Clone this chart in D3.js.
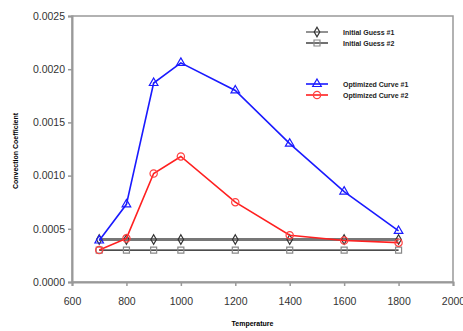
<!DOCTYPE html>
<html>
<head>
<meta charset="utf-8">
<script src="https://cdn.jsdelivr.net/npm/d3@7"></script>
<style>
  body { margin: 0; background: #fff; }
  svg { font-family: "Liberation Sans", Arial, sans-serif; }
</style>
</head>
<body>
<svg width="463" height="331"></svg>
<script>
const temps = [700, 800, 900, 1000, 1200, 1400, 1600, 1800];
const guess1 = [0.0004, 0.0004, 0.0004, 0.0004, 0.0004, 0.0004, 0.0004, 0.0004];
const guess2 = [0.0003, 0.0003, 0.0003, 0.0003, 0.0003, 0.0003, 0.0003, 0.0003];
const opt1 = [0.00039, 0.00073, 0.00187, 0.00206, 0.0018, 0.0013, 0.00085, 0.00048];
const opt2 = [0.0003, 0.00041, 0.00102, 0.00118, 0.00075, 0.00044, 0.00039, 0.00037];
const xTicks = [600, 800, 1000, 1200, 1400, 1600, 1800, 2000];
const yTicks = [0, 0.0005, 0.001, 0.0015, 0.002, 0.0025];
const seriesNames = ['Initial Guess #1', 'Initial Guess #2', 'Optimized Curve #1', 'Optimized Curve #2'];

const svg = d3.select('svg');
const margin = {top: 16, right: 10, bottom: 49, left: 72};
const width = 463, height = 331;
const innerW = width - margin.left - margin.right;
const innerH = height - margin.top - margin.bottom;

const x = d3.scaleLinear().domain([600, 2000]).range([0, innerW]);
const y = d3.scaleLinear().domain([0, 0.0025]).range([innerH, 0]);

const g = svg.append('g').attr('transform', `translate(${margin.left},${margin.top})`);

// frame
g.append('rect')
  .attr('width', innerW).attr('height', innerH)
  .attr('fill', 'none').attr('stroke', '#999').attr('stroke-width', 1.5);

const xAxis = g.append('g').attr('transform', `translate(0,${innerH})`)
  .call(d3.axisBottom(x).tickValues(xTicks).tickFormat(d3.format('d')).tickSize(4).tickPadding(12));
const yAxis = g.append('g')
  .call(d3.axisLeft(y).tickValues(yTicks).tickFormat(d3.format('.4f')).tickSize(4).tickPadding(3));
[xAxis, yAxis].forEach(a => {
  a.select('.domain').attr('stroke', '#999').attr('stroke-width', 2);
  a.selectAll('.tick line').attr('stroke', '#999').attr('stroke-width', 1.5);
  a.selectAll('.tick text').attr('font-size', 10.5).attr('fill', '#333');
});

svg.append('text')
  .attr('x', margin.left + innerW / 2 - 10).attr('y', 326)
  .attr('text-anchor', 'middle').attr('font-size', 7).attr('font-weight', 'bold')
  .text('Temperature');
svg.append('text')
  .attr('transform', `translate(18,151) rotate(-90)`)
  .attr('text-anchor', 'middle').attr('font-size', 7).attr('font-weight', 'bold')
  .text('Convection Coefficient');

const series = [
  {name: seriesNames[0], values: guess1, color: '#777', width: 3, shape: 'diamond', mcolor: '#333'},
  {name: seriesNames[1], values: guess2, color: '#111', width: 1.2, shape: 'square', mcolor: '#888'},
  {name: seriesNames[2], values: opt1, color: '#1a1aff', width: 1.6, shape: 'triangle', mcolor: '#1a1aff'},
  {name: seriesNames[3], values: opt2, color: '#ff2020', width: 1.6, shape: 'circle', mcolor: '#ff4040'}
];

const symbolFor = {
  diamond: d3.symbol().type(d3.symbolDiamond).size(26),
  square: d3.symbol().type(d3.symbolSquare).size(36),
  triangle: d3.symbol().type(d3.symbolTriangle).size(32),
  circle: d3.symbol().type(d3.symbolCircle).size(42)
};

const line = d3.line().x(d => x(d[0])).y(d => y(d[1]));

series.forEach(s => {
  const pts = temps.map((t, i) => [t, s.values[i]]);
  g.append('path').datum(pts)
    .attr('d', line).attr('fill', 'none')
    .attr('stroke', s.color).attr('stroke-width', s.width);
  g.selectAll(null).data(pts).enter().append('path')
    .attr('transform', d => `translate(${x(d[0])},${y(d[1])})`)
    .attr('d', symbolFor[s.shape])
    .attr('fill', 'none').attr('stroke', s.mcolor).attr('stroke-width', 1.2);
});

// legend
const legendRows = [32, 43, 84, 95];
const lg = svg.append('g');
series.forEach((s, i) => {
  const row = lg.append('g').attr('transform', `translate(306,${legendRows[i]})`);
  row.append('line').attr('x1', 0).attr('x2', 22)
    .attr('stroke', s.color).attr('stroke-width', Math.min(s.width, 1.6));
  row.append('path').attr('transform', 'translate(11,0)')
    .attr('d', symbolFor[s.shape]).attr('fill', 'none')
    .attr('stroke', s.mcolor).attr('stroke-width', 1.2);
  row.append('text').attr('x', 37).attr('y', 2.5)
    .attr('font-size', 7).attr('font-weight', 'bold').attr('fill', '#222')
    .text(s.name);
});
</script>
</body>
</html>
